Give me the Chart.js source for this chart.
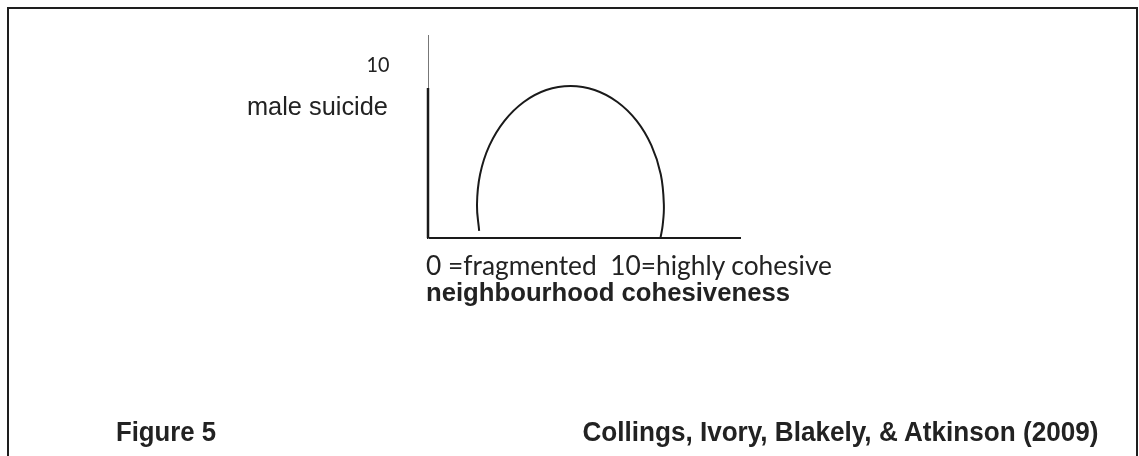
<!DOCTYPE html>
<html>
<head>
<meta charset="utf-8">
<script src="https://cdn.jsdelivr.net/npm/chart.js@4.4.1/dist/chart.umd.min.js"></script>
<style>
html,body{margin:0;padding:0;background:#fff;width:1139px;height:456px;overflow:hidden;}
#frame{position:absolute;left:7px;top:7px;width:1131px;height:480px;border:2px solid #1e1e1e;box-sizing:border-box;}
#c{position:absolute;left:0;top:0;}
.t{position:absolute;white-space:pre;color:#222;margin:0;padding:0;}
</style>
</head>
<body>
<div id="frame"></div>
<canvas id="c" width="1139" height="456"></canvas>
<script>
// ---- data ----
const curveX = [1.64, 1.57, 1.67, 1.97, 2.45, 3.07, 3.79, 4.57, 5.34, 6.07, 6.69, 7.16, 7.46, 7.56, 7.52, 7.45];
const curveY = [0.35, 1.63, 3.14, 4.56, 5.77, 6.70, 7.29, 7.49, 7.29, 6.70, 5.77, 4.56, 3.14, 1.63, 0.61, 0.00];
const xRange = [0, 10];
const yRange = [0, 10];
const yAxisSolidTop = [7.39];
const yTickLabel = ['10'];
const yTitle = ['male suicide'];
const xTickLabel = ['0 =fragmented  10=highly cohesive'];
const xTitle = ['neighbourhood cohesiveness'];
const figureLabel = ['Figure 5'];
const sourceLabel = ['Collings, Ivory, Blakely, & Atkinson (2009)'];

const curve = curveX.map((x, i) => ({x: x, y: curveY[i]}));
const yAxisSolid = [{x: xRange[0], y: yRange[0]}, {x: xRange[0], y: yAxisSolidTop[0]}];

new Chart(document.getElementById('c'), {
  type: 'scatter',
  data: {
    datasets: [
      {data: curve, showLine: true, borderColor: '#1a1a1a', borderWidth: 2, pointRadius: 0, tension: 0.4, clip: false, fill: false},
      {data: yAxisSolid, showLine: true, borderColor: '#1a1a1a', borderWidth: 2.5, pointRadius: 0, tension: 0, clip: false}
    ]
  },
  options: {
    responsive: false,
    animation: false,
    events: [],
    layout: {padding: {left: 428, right: 399, top: 35, bottom: 218}},
    plugins: {legend: {display: false}, tooltip: {enabled: false}},
    scales: {
      x: {
        type: 'linear', min: xRange[0], max: xRange[1],
        ticks: {display: false}, grid: {display: false},
        border: {display: true, color: '#1a1a1a', width: 2},
        afterFit: s => { s.height = 0; }
      },
      y: {
        type: 'linear', min: yRange[0], max: yRange[1],
        ticks: {display: false}, grid: {display: false},
        border: {display: true, color: '#777', width: 1},
        afterFit: s => { s.width = 0; }
      }
    }
  }
});

// ---- text labels ----
const LIB = '"Liberation Sans", Arial, sans-serif';
const CAL = 'Lato, "Noto Sans", sans-serif';
const texts = [
  {text: yTickLabel[0], family: CAL, size: 22, weight: 400, x: 390, align: 'right', baseline: 73, width: 23, asc: 0.887},
  {text: yTitle[0], family: LIB, size: 25, weight: 400, x: 388, align: 'right', baseline: 115, width: 141, asc: 0.8465},
  {text: xTickLabel[0], family: CAL, size: 26, weight: 400, x: 426, align: 'left', baseline: 275, width: 406, asc: 0.887},
  {text: xTitle[0], family: LIB, size: 25, weight: 700, x: 426, align: 'left', baseline: 301, width: 364, asc: 0.8465},
  {text: figureLabel[0], family: LIB, size: 28, weight: 700, x: 116, align: 'left', baseline: 442, width: 100, asc: 0.8465},
  {text: sourceLabel[0], family: LIB, size: 28, weight: 700, x: 1098, align: 'right', baseline: 442, width: 516, asc: 0.8465}
];
function place(s) {
  const el = document.createElement('div');
  el.className = 't';
  el.textContent = s.text;
  el.style.fontFamily = s.family;
  el.style.fontSize = s.size + 'px';
  el.style.fontWeight = s.weight;
  el.style.lineHeight = s.size + 'px';
  el.style.left = '0px';
  el.style.top = '0px';
  document.body.appendChild(el);
  const w = el.getBoundingClientRect().width;
  const sx = s.width ? s.width / w : 1;
  el.style.top = (s.baseline - s.size * s.asc) + 'px';
  if (s.align === 'right') {
    el.style.left = (s.x - w) + 'px';
    el.style.transformOrigin = 'right top';
  } else {
    el.style.left = s.x + 'px';
    el.style.transformOrigin = 'left top';
  }
  el.style.transform = 'scaleX(' + sx + ')';
}
(document.fonts ? document.fonts.ready : Promise.resolve()).then(() => texts.forEach(place));
</script>
</body>
</html>
